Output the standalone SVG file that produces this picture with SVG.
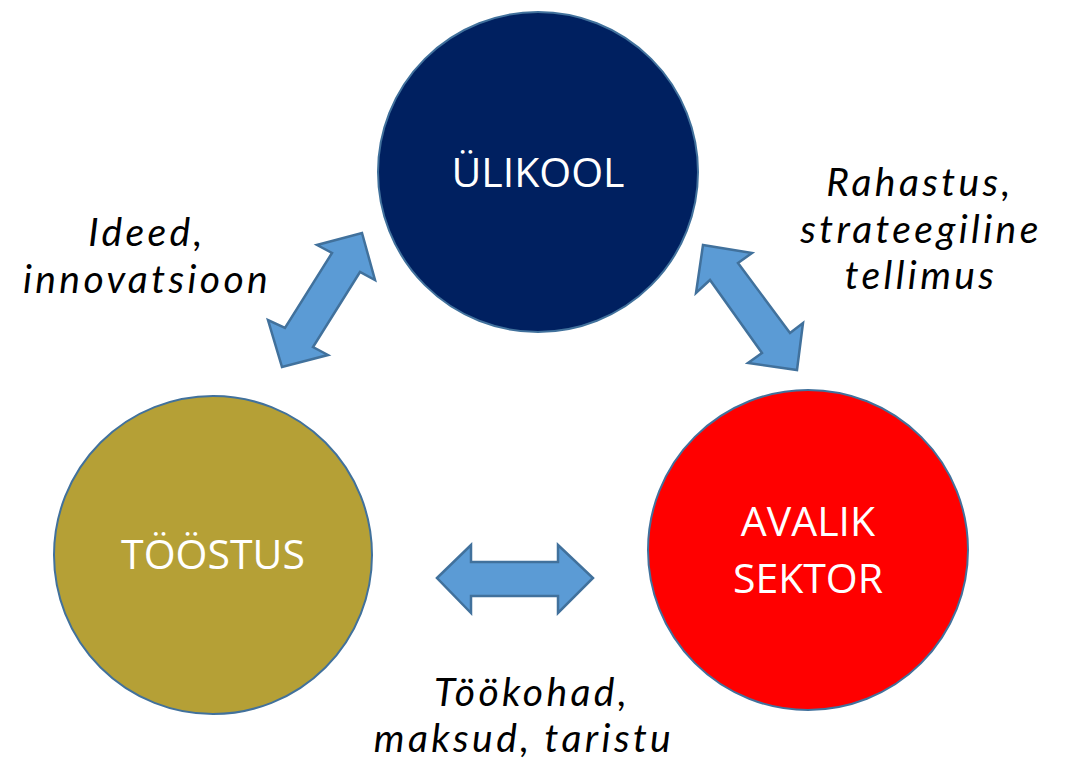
<svg xmlns="http://www.w3.org/2000/svg" width="1066" height="763" viewBox="0 0 1066 763">
<style>
.node{stroke:#41719C;stroke-width:2}
.lbl{font-family:"Open Sans",Lato,sans-serif;font-size:41px;fill:#fff;text-anchor:middle}
.note{font-family:Lato,"Open Sans",sans-serif;font-size:39px;font-style:italic;letter-spacing:3.4px;fill:#000;text-anchor:middle}
.arr{fill:#5B9BD5;stroke:#41719C;stroke-width:2.5;stroke-linejoin:miter}
</style>
<rect width="1066" height="763" fill="#fff"/>
<g id="connectors">
<polygon class="arr" points="362,233 375,280 360,272 313,347 328,355 282,367 268,320 285,328 332,253 317,245"/>
<polygon class="arr" points="703,245 752,253 738,263 790,333 803,323 797,370 748,363 762,353 710,280 696,293"/>
<polygon class="arr" points="437,578 471,545 471,562 558,562 558,545 593,578 558,613 558,596 471,596 471,613"/>
</g>
<g id="ulikool">
<circle class="node" cx="538" cy="172" r="160" fill="#002060"/>
<text class="lbl" x="538" y="187">ÜLIKOOL</text>
</g>
<g id="toostus">
<circle class="node" cx="213" cy="555" r="159" fill="#B5A036"/>
<text class="lbl" x="213" y="569">TÖÖSTUS</text>
</g>
<g id="avalik">
<circle class="node" cx="808" cy="550" r="160" fill="#FF0000"/>
<text class="lbl" x="808" y="536">AVALIK</text>
<text class="lbl" x="808" y="593">SEKTOR</text>
</g>
<g id="notes">
<text class="note" x="147" y="246">Ideed,</text>
<text class="note" x="147" y="293">innovatsioon</text>
<text class="note" x="920" y="196">Rahastus,</text>
<text class="note" x="921" y="243">strateegiline</text>
<text class="note" x="921" y="289">tellimus</text>
<text class="note" x="532" y="706">Töökohad,</text>
<text class="note" x="524" y="752">maksud, taristu</text>
</g>
</svg>
